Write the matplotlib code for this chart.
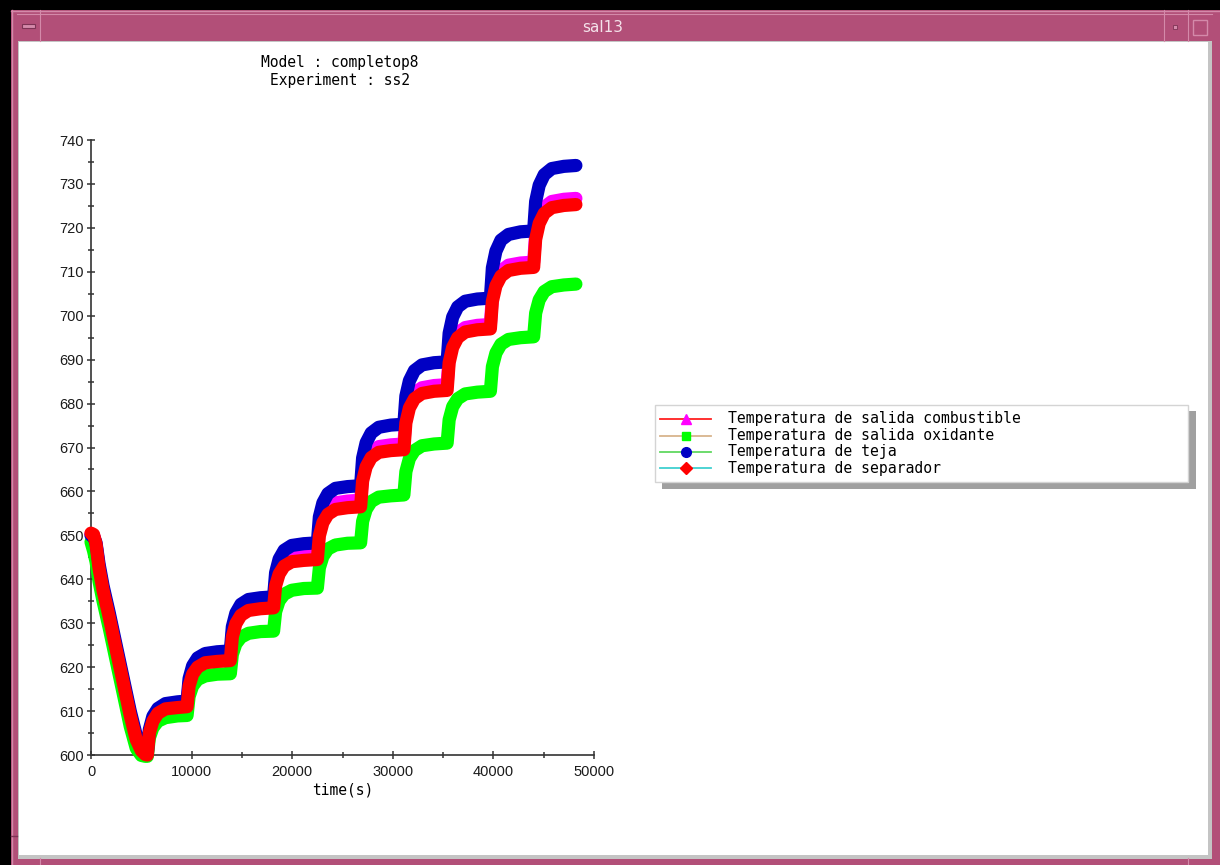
import matplotlib
matplotlib.use('Agg')
import matplotlib.pyplot as plt
from matplotlib.patches import Rectangle
from matplotlib.ticker import MultipleLocator

# ---------------- data ----------------
time_s = [0, 250, 500, 800, 1200, 1800, 2500, 3200, 3900, 4500, 5000, 5400,
          5600, 5800, 6150, 6650, 7400, 8600,
          9550, 9750, 10100, 10600, 11350, 12550,
          13850, 14050, 14400, 14900, 15650, 16850,
          18150, 18350, 18700, 19200, 19950, 21150,
          22500, 22700, 23050, 23550, 24300, 25500,
          26800, 27000, 27350, 27850, 28600, 29800,
          31100, 31300, 31650, 32150, 32900, 34100,
          35400, 35600, 35950, 36450, 37200, 38400,
          39700, 39900, 40250, 40750, 41500, 42700,
          44000, 44200, 44550, 45050, 45800, 47000,
          48200]

t_combustible = [650.3, 650.0, 648.0, 642.7, 637.8, 631.8, 624.3, 616.8, 609.3, 603.8, 601.2, 600.3,
                 600.2, 605.3, 608.1, 609.9, 610.9, 611.3,
                 611.5, 616.4, 619.1, 620.8, 621.8, 622.1,
                 622.3, 627.8, 630.8, 632.8, 633.9, 634.3,
                 634.5, 639.6, 642.4, 644.2, 645.2, 645.6,
                 645.8, 651.3, 654.3, 656.3, 657.4, 657.8,
                 658.0, 663.8, 667.0, 669.0, 670.2, 670.6,
                 670.8, 676.9, 680.3, 682.4, 683.6, 684.1,
                 684.3, 690.5, 693.9, 696.1, 697.3, 697.8,
                 698.0, 704.4, 707.9, 710.2, 711.5, 712.0,
                 712.2, 718.7, 722.4, 724.7, 726.0, 726.5,
                 726.7]

t_oxidante = [648.5, 646.5, 644.0, 639.5, 635.0, 629.0, 621.5, 614.0, 606.5, 601.5, 599.9, 599.7,
              599.7, 603.9, 606.2, 607.7, 608.5, 608.9,
              609.0, 613.3, 615.7, 617.2, 618.0, 618.4,
              618.5, 622.9, 625.3, 626.8, 627.7, 628.1,
              628.2, 632.6, 635.1, 636.6, 637.5, 637.9,
              638.0, 642.6, 645.2, 646.9, 647.8, 648.2,
              648.3, 653.2, 655.9, 657.7, 658.7, 659.0,
              659.2, 664.5, 667.5, 669.3, 670.4, 670.8,
              671.0, 676.3, 679.3, 681.1, 682.2, 682.6,
              682.8, 688.4, 691.5, 693.5, 694.6, 695.0,
              695.2, 700.6, 703.6, 705.5, 706.6, 707.0,
              707.2]

t_teja = [650.0, 649.8, 648.3, 643.5, 638.5, 632.5, 625.0, 617.5, 610.0, 604.5, 601.7, 600.7,
          600.5, 605.8, 608.8, 610.6, 611.7, 612.1,
          612.3, 617.4, 620.3, 622.1, 623.1, 623.5,
          623.7, 629.2, 632.3, 634.3, 635.4, 635.8,
          636.0, 641.5, 644.6, 646.6, 647.7, 648.1,
          648.3, 654.2, 657.4, 659.5, 660.7, 661.1,
          661.3, 667.6, 671.1, 673.3, 674.6, 675.1,
          675.3, 681.7, 685.2, 687.5, 688.8, 689.3,
          689.5, 696.0, 699.7, 702.0, 703.3, 703.8,
          704.0, 710.9, 714.7, 717.2, 718.5, 719.1,
          719.3, 726.0, 729.7, 732.1, 733.5, 734.0,
          734.2]

t_separador = [650.5, 650.2, 648.0, 642.5, 637.5, 631.5, 624.0, 616.5, 609.0, 603.5, 601.0, 600.1,
               600.0, 605.0, 607.7, 609.5, 610.5, 610.8,
               611.0, 615.7, 618.4, 620.0, 621.0, 621.3,
               621.5, 626.9, 629.9, 631.8, 632.9, 633.3,
               633.5, 638.5, 641.2, 643.0, 644.0, 644.3,
               644.5, 649.9, 652.9, 654.8, 655.9, 656.3,
               656.5, 662.4, 665.6, 667.7, 668.9, 669.3,
               669.5, 675.6, 679.0, 681.1, 682.3, 682.8,
               683.0, 689.3, 692.8, 695.0, 696.3, 696.8,
               697.0, 703.3, 706.8, 709.0, 710.3, 710.8,
               711.0, 717.4, 721.0, 723.3, 724.6, 725.1,
               725.3]

series_labels = ['Temperatura de salida combustible',
                 'Temperatura de salida oxidante',
                 'Temperatura de teja',
                 'Temperatura de separador']
series_values = [t_combustible, t_oxidante, t_teja, t_separador]
marker_colors = ['#ff00ff', '#00ff00', '#0000c4', '#ff0000']
line_colors = ['#ff2020', '#d8b48c', '#60d860', '#40d0d0']
marker_styles = ['^', 's', 'o', 'D']
marker_sizes = [7.0, 6.0, 7.0, 6.5]

x_ticks = [0, 10000, 20000, 30000, 40000, 50000]
y_ticks = list(range(600, 741, 10))

# ---------------- figure / window chrome ----------------
W, H = 1220, 865
fig = plt.figure(figsize=(W / 100, H / 100), dpi=100)
bg = fig.add_axes([0, 0, 1, 1], zorder=0)
bg.set_xlim(0, W)
bg.set_ylim(H, 0)
bg.axis('off')

pink = '#b24f78'
light = '#d48aaa'
dark = '#7e3355'
bg.add_patch(Rectangle((0, 0), W, H, facecolor=pink, edgecolor='none'))
bg.add_patch(Rectangle((0, 0), W, 10, facecolor='black', edgecolor='none'))
bg.add_patch(Rectangle((0, 0), 11, H, facecolor='black', edgecolor='none'))
# frame highlight lines
bg.plot([11, W], [10.5, 10.5], color=light, lw=1)
bg.plot([11.5, 11.5], [10, H], color=light, lw=1)
bg.plot([17, W - 8], [13.5, 13.5], color=light, lw=0.8)
bg.plot([40, 40], [10, 41], color=light, lw=0.8)
bg.plot([1164, 1164], [10, 41], color=light, lw=0.8)
bg.plot([1188, 1188], [10, 41], color=light, lw=0.8)
bg.plot([11, 17], [836, 836], color=dark, lw=1)
bg.plot([40, 40], [858, H], color=light, lw=0.8)
bg.plot([1188, 1188], [858, H], color=light, lw=0.8)
# buttons
bg.add_patch(Rectangle((22, 24), 13, 4, facecolor=light, edgecolor=dark, lw=0.8))
bg.add_patch(Rectangle((1173, 25), 4, 4, facecolor=light, edgecolor=dark, lw=0.6))
bg.add_patch(Rectangle((1193, 20), 14, 15, facecolor=pink, edgecolor=light, lw=1))
# client area
bg.add_patch(Rectangle((18, 41), 1194, 818, facecolor='#c4c4c4', edgecolor='none'))
bg.add_patch(Rectangle((19, 42), 1189, 813, facecolor='white', edgecolor='none'))
bg.text(603, 27, 'sal13', color='#f4e2ea', ha='center', va='center',
        fontsize=11, family='DejaVu Sans')

# header text
mono = 'DejaVu Sans Mono'
bg.text(340, 63, 'Model : completop8', ha='center', va='center', family=mono, fontsize=10.5)
bg.text(340, 80, 'Experiment : ss2', ha='center', va='center', family=mono, fontsize=10.5)

# ---------------- plot axes ----------------
x0, x1, ytop, ybot = 91, 594, 140, 755
ax = fig.add_axes([x0 / W, (H - ybot) / H, (x1 - x0) / W, (ybot - ytop) / H], zorder=1)
ax.patch.set_alpha(0)
ax.set_xlim(0, 50000)
ax.set_ylim(600, 740)

for vals, mc in zip(series_values, marker_colors):
    ax.plot(time_s, vals, color=mc, lw=9.5, solid_capstyle='round',
            solid_joinstyle='round', clip_on=False, zorder=3)

for s in ['top', 'right']:
    ax.spines[s].set_visible(False)
for s in ['left', 'bottom']:
    ax.spines[s].set_color('#333333')
    ax.spines[s].set_linewidth(1.2)

ax.set_xticks(x_ticks)
ax.set_yticks(y_ticks)
ax.set_xticklabels([str(v) for v in x_ticks])
ax.set_yticklabels([str(v) for v in y_ticks])
ax.xaxis.set_minor_locator(MultipleLocator(5000))
ax.yaxis.set_minor_locator(MultipleLocator(5))
ax.tick_params(which='both', direction='inout', color='#333333', width=1.1)
ax.tick_params(which='major', length=6)
ax.tick_params(which='minor', length=5)
ax.tick_params(axis='y', which='major', pad=2)
ax.tick_params(axis='x', which='major', pad=4)
for lab in ax.get_xticklabels() + ax.get_yticklabels():
    lab.set_family('Liberation Sans')
    lab.set_fontsize(10.5)
    lab.set_color('#1a1a1a')
ax.set_xlabel('time(s)', family=mono, fontsize=10.5, labelpad=3)

# ---------------- legend ----------------
bg.add_patch(Rectangle((662, 411), 534, 78, facecolor='#a0a0a0', edgecolor='none', zorder=5))
bg.add_patch(Rectangle((655, 405), 533, 77, facecolor='white', edgecolor='#d4d4d4', lw=1, zorder=6))
row_y = [419, 435.5, 451.8, 468]
for yy, lab, lc, mc, ms, msz in zip(row_y, series_labels, line_colors, marker_colors,
                                    marker_styles, marker_sizes):
    bg.plot([660, 711], [yy, yy], color=lc, lw=1.3, zorder=7)
    bg.plot([686], [yy], marker=ms, color=mc, markersize=msz, linestyle='none', zorder=8)
    bg.text(728, yy, lab, ha='left', va='center', family=mono, fontsize=10.6, zorder=8)

fig.savefig('out.png', dpi=100)
